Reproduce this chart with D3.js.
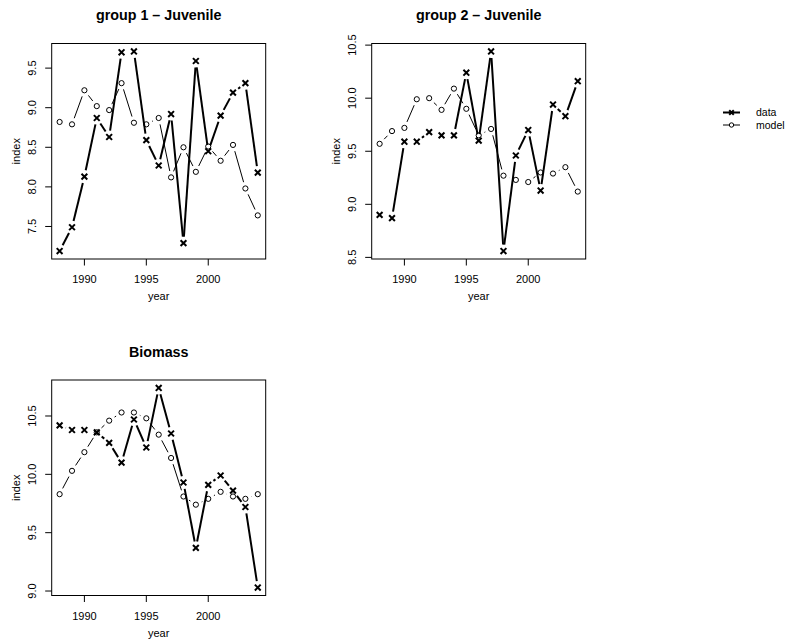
<!DOCTYPE html>
<html>
<head>
<meta charset="utf-8">
<script src="https://cdn.jsdelivr.net/npm/d3@7"></script>
<style>
  html, body { margin: 0; padding: 0; background: #fff; }
  svg { display: block; font-family: "Liberation Sans", Arial, Helvetica, sans-serif; }
</style>
</head>
<body>
<svg id="chart" width="793" height="643"></svg>
<script>
// =====================================================================
// Data
// =====================================================================
const years = [1988, 1989, 1990, 1991, 1992, 1993, 1994, 1995, 1996,
               1997, 1998, 1999, 2000, 2001, 2002, 2003, 2004];

const g1Data  = [7.19, 7.49, 8.13, 8.87, 8.63, 9.70, 9.71, 8.59, 8.27,
                 8.92, 7.29, 9.59, 8.45, 8.90, 9.19, 9.31, 8.18];
const g1Model = [8.82, 8.79, 9.22, 9.02, 8.97, 9.31, 8.81, 8.79, 8.87,
                 8.12, 8.50, 8.19, 8.51, 8.33, 8.53, 7.98, 7.64];

const g2Data  = [8.90, 8.87, 9.59, 9.59, 9.68, 9.65, 9.65, 10.24, 9.60,
                 10.44, 8.56, 9.46, 9.70, 9.13, 9.94, 9.83, 10.16];
const g2Model = [9.57, 9.69, 9.72, 9.99, 10.00, 9.89, 10.09, 9.90, 9.65,
                 9.71, 9.27, 9.23, 9.21, 9.30, 9.29, 9.35, 9.12];

const bioData  = [10.42, 10.38, 10.38, 10.36, 10.27, 10.10, 10.47, 10.23, 10.74,
                  10.35, 9.93, 9.37, 9.91, 9.99, 9.86, 9.72, 9.03];
const bioModel = [9.83, 10.03, 10.19, 10.36, 10.46, 10.53, 10.53, 10.48, 10.34,
                  10.14, 9.81, 9.74, 9.79, 9.85, 9.81, 9.79, 9.83];

const xTicks = [1990, 1995, 2000];
const g1Ticks = [7.5, 8.0, 8.5, 9.0, 9.5];
const g2Ticks = [8.5, 9.0, 9.5, 10.0, 10.5];
const bioTicks = [9.0, 9.5, 10.0, 10.5];

const legendLabels = ['data', 'model'];

// =====================================================================
// Layout
// =====================================================================
const boxW = 214, boxH = 215.5;
const panels = [
  { title: 'group 1 \u2013 Juvenile', left: 51.7, top: 43.5, data: g1Data, model: g1Model, ticks: g1Ticks },
  { title: 'group 2 \u2013 Juvenile', left: 371.7, top: 43.5, data: g2Data, model: g2Model, ticks: g2Ticks },
  { title: 'Biomass', left: 51.7, top: 380, data: bioData, model: bioModel, ticks: bioTicks }
];

const GAP = 6.5;      // gap around points for type="b" lines
const svg = d3.select('#chart');

// R style 4% range extension
function rDomain(vals) {
  const [lo, hi] = d3.extent(vals);
  const pad = (hi - lo) * 0.04;
  return [lo - pad, hi + pad];
}

function drawX(g, cx, cy, s, w) {
  g.append('path')
    .attr('d', `M${cx - s},${cy - s}L${cx + s},${cy + s}M${cx - s},${cy + s}L${cx + s},${cy - s}`)
    .attr('stroke', '#000').attr('stroke-width', w).attr('fill', 'none');
}

function drawO(g, cx, cy, r) {
  g.append('circle')
    .attr('cx', cx).attr('cy', cy).attr('r', r)
    .attr('stroke', '#000').attr('stroke-width', 1).attr('fill', 'none');
}

// lines with gaps at the points, like plot(type = "b")
function drawGapLine(g, pts, width) {
  for (let i = 1; i < pts.length; i++) {
    const [x0, y0] = pts[i - 1], [x1, y1] = pts[i];
    const dx = x1 - x0, dy = y1 - y0;
    const len = Math.sqrt(dx * dx + dy * dy);
    if (len <= 2 * GAP) continue;
    const f = GAP / len;
    g.append('line')
      .attr('x1', x0 + f * dx).attr('y1', y0 + f * dy)
      .attr('x2', x1 - f * dx).attr('y2', y1 - f * dy)
      .attr('stroke', '#000').attr('stroke-width', width)
      .attr('stroke-linecap', 'butt');
  }
}

// =====================================================================
// Panels
// =====================================================================
panels.forEach(p => {
  const g = svg.append('g');
  const x = d3.scaleLinear().domain(rDomain(years)).range([p.left, p.left + boxW]);
  const y = d3.scaleLinear().domain(rDomain(p.data.concat(p.model))).range([p.top + boxH, p.top]);
  const bottom = p.top + boxH;

  // title
  g.append('text')
    .attr('x', p.left + boxW / 2).attr('y', p.top - 23.5)
    .attr('text-anchor', 'middle')
    .style('font-size', '14.3px').style('font-weight', 'bold')
    .text(p.title);

  // box
  g.append('rect')
    .attr('x', p.left).attr('y', p.top).attr('width', boxW).attr('height', boxH)
    .attr('fill', 'none').attr('stroke', '#000').attr('stroke-width', 1);

  // x axis
  xTicks.forEach(t => {
    g.append('line')
      .attr('x1', x(t)).attr('x2', x(t)).attr('y1', bottom).attr('y2', bottom + 6.5)
      .attr('stroke', '#000');
    g.append('text')
      .attr('x', x(t)).attr('y', bottom + 24.3)
      .attr('text-anchor', 'middle').style('font-size', '11px')
      .text(t);
  });
  g.append('text')
    .attr('x', p.left + boxW / 2).attr('y', bottom + 41)
    .attr('text-anchor', 'middle').style('font-size', '11px')
    .text('year');

  // y axis
  p.ticks.forEach(t => {
    g.append('line')
      .attr('x1', p.left - 6.5).attr('x2', p.left).attr('y1', y(t)).attr('y2', y(t))
      .attr('stroke', '#000');
    g.append('text')
      .attr('transform', `translate(${p.left - 16},${y(t)}) rotate(-90)`)
      .attr('text-anchor', 'middle').style('font-size', '11px')
      .text(t.toFixed(1));
  });
  g.append('text')
    .attr('transform', `translate(${p.left - 31.7},${p.top + boxH / 2}) rotate(-90)`)
    .attr('text-anchor', 'middle').style('font-size', '11px')
    .text('index');

  // series
  const modelPts = years.map((yr, i) => [x(yr), y(p.model[i])]);
  const dataPts = years.map((yr, i) => [x(yr), y(p.data[i])]);

  drawGapLine(g, modelPts, 1);
  modelPts.forEach(([cx, cy]) => drawO(g, cx, cy, 2.6));

  drawGapLine(g, dataPts, 2);
  dataPts.forEach(([cx, cy]) => drawX(g, cx, cy, 2.9, 2));
});

// =====================================================================
// Legend
// =====================================================================
const legend = svg.append('g');
legendLabels.forEach((lab, i) => {
  const ly = 112.5 + i * 12.5;
  legend.append('line')
    .attr('x1', 723).attr('x2', 740).attr('y1', ly).attr('y2', ly)
    .attr('stroke', '#000').attr('stroke-width', i === 0 ? 2 : 1);
  if (i === 0) drawX(legend, 731.5, ly, 2.3, 2);
  else legend.append('circle')
    .attr('cx', 731.5).attr('cy', ly).attr('r', 2.2)
    .attr('fill', '#fff').attr('stroke', '#000');
  legend.append('text')
    .attr('x', 756).attr('y', ly + 3.7)
    .style('font-size', '10.5px')
    .text(lab);
});
</script>
</body>
</html>
